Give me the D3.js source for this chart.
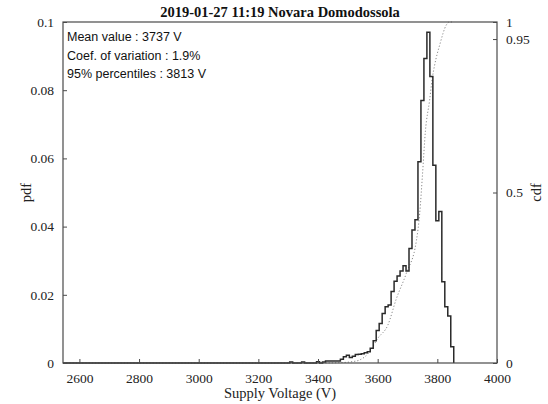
<!DOCTYPE html>
<html>
<head>
<meta charset="utf-8">
<script src="https://cdn.jsdelivr.net/npm/d3@7"></script>
<style>
  html, body { margin: 0; padding: 0; background: #fff; }
  svg { display: block; }
</style>
</head>
<body>
<svg id="chart" width="548" height="404"></svg>
<script>
// ---------------- data ----------------
const titleText = "2019-01-27 11:19 Novara Domodossola";
const annotations = ["Mean value : 3737 V", "Coef. of variation : 1.9%", "95% percentiles : 3813 V"];
const xLabel = "Supply Voltage (V)";
const yLeftLabel = "pdf";
const yRightLabel = "cdf";

const xTicks = [2600, 2800, 3000, 3200, 3400, 3600, 3800, 4000];
const pdfTicks = [0, 0.02, 0.04, 0.06, 0.08, 0.1];
const cdfTicks = [0, 0.5, 0.95, 1];

const dataStartV = 2545;   // lowest voltage in record
const firstBinV = 3305;    // left edge of first non-empty bin
const binWidthV = 10;
// probability per 10 V bin, bins starting at 3305 V
const pdfValues = [
  0.0003, 0, 0, 0, 0.0003, 0, 0, 0, 0, 0.0004,
  0, 0.0003, 0.0006, 0.0006, 0.0006, 0.0006, 0.0006, 0.0011, 0.0018, 0.0023,
  0.0016, 0.0020, 0.0025, 0.0026, 0.0027, 0.0030, 0.0033, 0.0043, 0.0065, 0.0095,
  0.0116, 0.0145, 0.0165, 0.0170, 0.0210, 0.0240, 0.0255, 0.0270, 0.0285, 0.0270,
  0.0336, 0.0390, 0.0420, 0.0590, 0.0770, 0.0893, 0.0970, 0.0840, 0.0580, 0.0417,
  0.0444, 0.0238, 0.0165, 0.0138, 0.0048
];

// cdf curve
const cdfVolt = [2545, 3400, 3472, 3515, 3540, 3573, 3600, 3634, 3662, 3696, 3730, 3741, 3750, 3760, 3774, 3783, 3791, 3808, 3830, 3840, 3855];
const cdfProb = [0, 0, 0.001, 0.004, 0.009, 0.033, 0.072, 0.111, 0.187, 0.263, 0.36, 0.44, 0.55, 0.68, 0.77, 0.835, 0.874, 0.933, 0.991, 1.0, 1.0];

// ---------------- layout ----------------
const W = 548, H = 404;
const m = { left: 63, right: 51, top: 22, bottom: 41 };
const pw = W - m.left - m.right, ph = H - m.top - m.bottom;

const svg = d3.select("#chart");
const g = svg.append("g").attr("transform", `translate(${m.left},${m.top})`);

const x = d3.scaleLinear().domain([dataStartV, 4000]).range([0, pw]);
const yL = d3.scaleLinear().domain([0, 0.1]).range([ph, 0]);
const yR = d3.scaleLinear().domain([0, 1]).range([ph, 0]);

const serif = "'Liberation Serif', 'Times New Roman', serif";
const sans = "'Liberation Sans', Arial, sans-serif";
const textCol = "#222";
const axisCol = "#4a4a4a";

// cdf dotted line
const cdfPts = cdfVolt.map((v, i) => [v, cdfProb[i]]);
g.append("path")
  .datum(cdfPts)
  .attr("fill", "none")
  .attr("stroke", "#8a8a8a")
  .attr("stroke-width", 1)
  .attr("stroke-dasharray", "1.2,2")
  .attr("d", d3.line().x(d => x(d[0])).y(d => yR(d[1])).curve(d3.curveMonotoneX));

// histogram stairs
const stairPts = [[dataStartV, 0]];
pdfValues.forEach((p, i) => stairPts.push([firstBinV + i * binWidthV, p]));
stairPts.push([firstBinV + pdfValues.length * binWidthV, 0]);
g.append("path")
  .datum(stairPts)
  .attr("fill", "none")
  .attr("stroke", "#2a2a2a")
  .attr("stroke-width", 1.5)
  .attr("d", d3.line().x(d => x(d[0])).y(d => yL(d[1])).curve(d3.curveStepAfter));

// frame
g.append("rect")
  .attr("x", 0).attr("y", 0).attr("width", pw).attr("height", ph)
  .attr("fill", "none").attr("stroke", axisCol).attr("stroke-width", 1.2);

// axes
function styleAxis(sel) {
  sel.select(".domain").remove();
  sel.selectAll(".tick line").attr("stroke", axisCol).attr("stroke-width", 1);
  sel.selectAll(".tick text").attr("fill", textCol).style("font-family", serif).style("font-size", "13.5px");
}

const xAxis = g.append("g").attr("transform", `translate(0,${ph})`)
  .call(d3.axisBottom(x).tickValues(xTicks).tickSize(-4).tickPadding(10).tickFormat(d3.format("d")));
styleAxis(xAxis);

const yAxisL = g.append("g")
  .call(d3.axisLeft(yL).tickValues(pdfTicks).tickSize(-4).tickPadding(9).tickFormat(d => String(+d.toFixed(2))));
styleAxis(yAxisL);

const yAxisR = g.append("g").attr("transform", `translate(${pw},0)`)
  .call(d3.axisRight(yR).tickValues(cdfTicks).tickSize(-4).tickPadding(9).tickFormat(d => String(+d.toFixed(2))));
styleAxis(yAxisR);

// title
svg.append("text")
  .attr("x", m.left + pw / 2).attr("y", 17)
  .attr("text-anchor", "middle")
  .style("font-family", serif).style("font-size", "14.5px").style("font-weight", "bold")
  .attr("fill", "#111")
  .text(titleText);

// annotations
annotations.forEach((t, i) => {
  g.append("text")
    .attr("x", 4).attr("y", 19 + i * 18.5)
    .style("font-family", sans).style("font-size", "12.5px")
    .attr("fill", "#111")
    .text(t);
});

// axis labels
svg.append("text")
  .attr("x", m.left + pw / 2).attr("y", 398)
  .attr("text-anchor", "middle")
  .style("font-family", serif).style("font-size", "14.5px")
  .attr("fill", textCol)
  .text(xLabel);

svg.append("text")
  .attr("transform", `translate(31,${m.top + ph / 2}) rotate(-90)`)
  .attr("text-anchor", "middle")
  .style("font-family", serif).style("font-size", "14.5px")
  .attr("fill", textCol)
  .text(yLeftLabel);

svg.append("text")
  .attr("transform", `translate(541,${m.top + ph / 2}) rotate(-90)`)
  .attr("text-anchor", "middle")
  .style("font-family", serif).style("font-size", "14.5px")
  .attr("fill", textCol)
  .text(yRightLabel);
</script>
</body>
</html>
